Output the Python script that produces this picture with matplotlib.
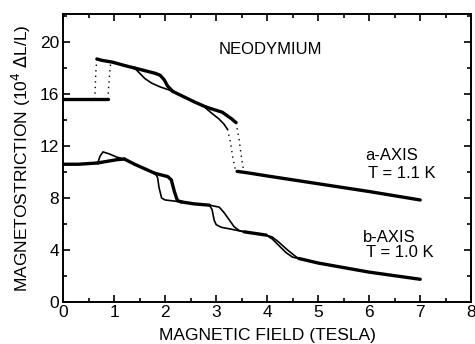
import matplotlib
matplotlib.use("Agg")
import matplotlib.pyplot as plt
from matplotlib.ticker import MultipleLocator

plt.rcParams['font.family'] = ['Liberation Sans', 'DejaVu Sans']

# a-axis, T = 1.1 K  (field in tesla, strain in 1e-4)
a_flat_x = [0.0, 0.3, 0.6, 0.88]
a_flat_y = [15.6, 15.6, 15.6, 15.6]
a_jump_dn_x = [0.62, 0.63, 0.64, 0.66]
a_jump_dn_y = [15.6, 16.6, 17.7, 18.7]
a_jump_up_x = [0.88, 0.89, 0.91, 0.93]
a_jump_up_y = [15.6, 16.5, 17.5, 18.35]
a_top_x = [0.66, 0.75, 0.97, 1.2, 1.4]
a_top_y = [18.7, 18.6, 18.45, 18.2, 18.0]
a_br1_x = [1.4, 1.6, 1.8, 1.9, 1.98, 2.05, 2.15]
a_br1_y = [18.0, 17.8, 17.6, 17.45, 17.1, 16.6, 16.2]
a_br2_x = [1.4, 1.5, 1.6, 1.73, 1.9, 2.05, 2.15]
a_br2_y = [18.0, 17.6, 17.2, 16.85, 16.55, 16.35, 16.2]
a_mid_x = [2.15, 2.57, 2.8]
a_mid_y = [16.2, 15.4, 15.0]
a_br3_x = [2.8, 3.12, 3.3, 3.39]
a_br3_y = [15.0, 14.6, 14.1, 13.8]
a_br3_dot_x = [3.39, 3.45, 3.5, 3.53, 3.58]
a_br3_dot_y = [13.8, 12.5, 11.0, 10.3, 10.0]
a_br4_x = [2.8, 2.92, 3.05, 3.15, 3.22]
a_br4_y = [14.9, 14.5, 14.1, 13.7, 13.3]
a_br4_dot_x = [3.22, 3.28, 3.33, 3.37, 3.41]
a_br4_dot_y = [13.3, 12.3, 11.0, 10.3, 10.05]
a_tail_x = [3.41, 3.6, 4.0, 5.0, 6.0, 7.0]
a_tail_y = [10.05, 9.95, 9.7, 9.1, 8.5, 7.85]

# b-axis, T = 1.0 K
b_flat_x = [0.0, 0.3, 0.68]
b_flat_y = [10.6, 10.6, 10.7]
b_br1_x = [0.68, 0.72, 0.78, 0.9, 1.05, 1.2]
b_br1_y = [10.7, 11.2, 11.55, 11.4, 11.15, 11.0]
b_br2_x = [0.68, 0.9, 1.05, 1.2]
b_br2_y = [10.7, 10.85, 10.95, 11.0]
b_mid1_x = [1.2, 1.4, 1.6, 1.8]
b_mid1_y = [11.0, 10.6, 10.25, 9.9]
b_br3_x = [1.8, 1.85, 1.88, 1.93, 2.0, 2.32]
b_br3_y = [9.9, 9.6, 8.8, 8.0, 7.85, 7.7]
b_br4_x = [1.8, 2.05, 2.12, 2.18, 2.24, 2.32]
b_br4_y = [9.9, 9.65, 9.4, 8.5, 7.8, 7.7]
b_mid2_x = [2.32, 2.57, 2.87]
b_mid2_y = [7.7, 7.55, 7.45]
b_br5_x = [2.87, 3.06, 3.15, 3.26, 3.35, 3.45, 3.55]
b_br5_y = [7.45, 7.3, 6.9, 6.3, 5.8, 5.5, 5.4]
b_br6_x = [2.87, 2.92, 2.96, 3.0, 3.1, 3.3, 3.55]
b_br6_y = [7.45, 7.1, 6.3, 5.95, 5.75, 5.6, 5.4]
b_mid3_x = [3.55, 3.98]
b_mid3_y = [5.4, 5.15]
b_br7_x = [3.98, 4.1, 4.23, 4.4, 4.56, 4.62]
b_br7_y = [5.15, 5.0, 4.6, 4.0, 3.5, 3.35]
b_br8_x = [3.98, 4.1, 4.37, 4.5, 4.62]
b_br8_y = [5.15, 4.85, 3.8, 3.45, 3.35]
b_tail_x = [4.62, 5.0, 6.0, 7.0]
b_tail_y = [3.35, 3.0, 2.3, 1.75]

fig = plt.figure(figsize=(4.75, 3.44), dpi=100)
ax = fig.add_axes([0.133, 0.122, 0.859, 0.837])

thick = dict(color='black', lw=2.4, solid_capstyle='round')
thin = dict(color='black', lw=1.2)
dots = dict(color='black', lw=1.0, ls=(0, (1, 3)))

# a-axis
ax.plot(a_flat_x, a_flat_y, **thick)
ax.plot(a_jump_dn_x, a_jump_dn_y, **dots)
ax.plot(a_jump_up_x, a_jump_up_y, **dots)
ax.plot(a_top_x, a_top_y, **thick)
ax.plot(a_br1_x, a_br1_y, **thick)
ax.plot(a_br2_x, a_br2_y, **thin)
ax.plot(a_mid_x, a_mid_y, **thick)
ax.plot(a_br3_x, a_br3_y, **thick)
ax.plot(a_br3_dot_x, a_br3_dot_y, **dots)
ax.plot(a_br4_x, a_br4_y, **thin)
ax.plot(a_br4_dot_x, a_br4_dot_y, **dots)
ax.plot(a_tail_x, a_tail_y, **thick)

# b-axis
ax.plot(b_flat_x, b_flat_y, **thick)
ax.plot(b_br1_x, b_br1_y, **thin)
ax.plot(b_br2_x, b_br2_y, **thick)
ax.plot(b_mid1_x, b_mid1_y, **thick)
ax.plot(b_br3_x, b_br3_y, **thin)
ax.plot(b_br4_x, b_br4_y, **thick)
ax.plot(b_mid2_x, b_mid2_y, **thick)
ax.plot(b_br5_x, b_br5_y, **thin)
ax.plot(b_br6_x, b_br6_y, **thin)
ax.plot(b_mid3_x, b_mid3_y, **thick)
ax.plot(b_br7_x, b_br7_y, **thin)
ax.plot(b_br8_x, b_br8_y, **thin)
ax.plot(b_tail_x, b_tail_y, **thick)

ax.set_xlim(0, 8)
ax.set_ylim(0, 22.15)
ax.xaxis.set_major_locator(MultipleLocator(1))
ax.xaxis.set_minor_locator(MultipleLocator(0.5))
ax.yaxis.set_major_locator(MultipleLocator(4))
ax.yaxis.set_minor_locator(MultipleLocator(2))
ax.tick_params(which='both', direction='in', top=True, right=True,
               labelsize=12.5, width=1.2, pad=3)
ax.tick_params(which='major', length=5)
ax.tick_params(which='minor', length=3)
ax.tick_params(axis='x', pad=2)
for s in ax.spines.values():
    s.set_linewidth(1.4)

ax.set_xlabel('MAGNETIC FIELD (TESLA)', fontsize=12.5, labelpad=6)
ax.set_ylabel(r'MAGNETOSTRICTION (10$^4$ $\Delta$L/L)', fontsize=12.5, labelpad=5)

ax.text(4.07, 19.4, 'NEODYMIUM', fontsize=12, ha='center', va='center')
ax.text(5.93, 11.3, 'a-AXIS', fontsize=12, ha='left', va='center')
ax.text(5.98, 9.9, 'T = 1.1 K', fontsize=12, ha='left', va='center')
ax.text(5.88, 5.0, 'b-AXIS', fontsize=12, ha='left', va='center')
ax.text(5.93, 3.8, 'T = 1.0 K', fontsize=12, ha='left', va='center')

fig.savefig('out.png', dpi=100)
